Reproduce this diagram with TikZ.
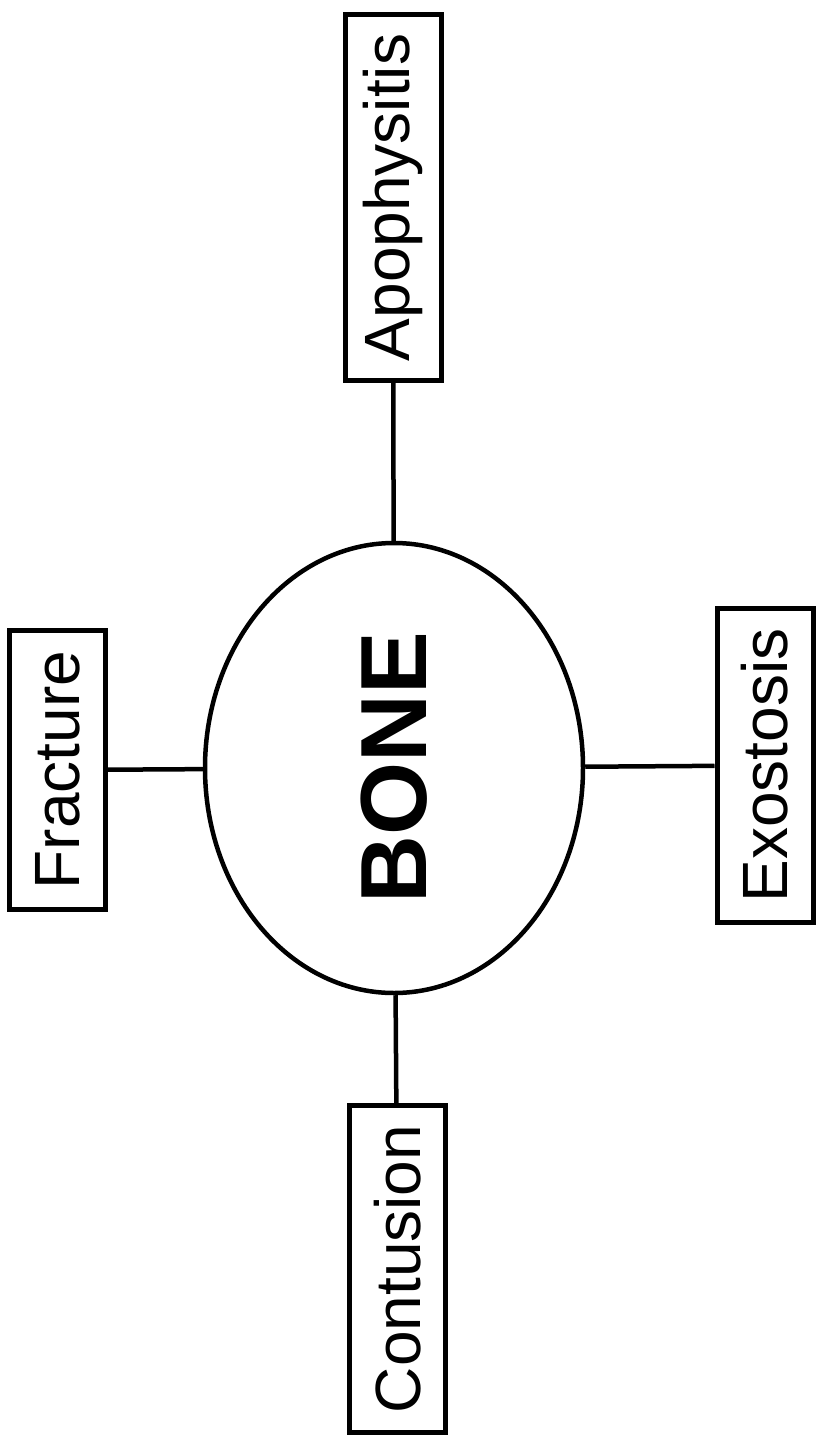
\documentclass[tikz,border=0pt]{standalone}
\usepackage{fontspec}
\setmainfont{Liberation Sans}
\usetikzlibrary{shapes.geometric}
\begin{document}
\begin{tikzpicture}[x=1pt,y=-1pt,
  box/.style={draw, line width=5pt, inner sep=0pt, minimum width=96pt, font=\fontsize{64}{70}\selectfont},
  conn/.style={line width=4.5pt}]
\useasboundingbox (0,0) rectangle (816,1442);
\node[ellipse, draw, line width=4.5pt, inner sep=0pt, minimum width=378pt, minimum height=450pt,
      font=\fontsize{94}{100}\selectfont\bfseries] (bone) at (394,768) {\rotatebox{90}{BONE}};
\node[box, minimum height=366pt] (apo) at (393,197.5) {\rotatebox{90}{Apophysitis}};
\node[box, minimum height=279pt] (fra) at (57.5,770) {\rotatebox{90}{Fracture}};
\node[box, minimum height=314pt] (exo) at (765,765.5) {\rotatebox{90}{Exostosis}};
\node[box, minimum height=327pt] (con) at (397.5,1269) {\rotatebox{90}{Contusion}};
\draw[conn] (apo) -- (bone);
\draw[conn] (fra) -- (bone);
\draw[conn] (exo) -- (bone);
\draw[conn] (con) -- (bone);
\end{tikzpicture}
\end{document}
